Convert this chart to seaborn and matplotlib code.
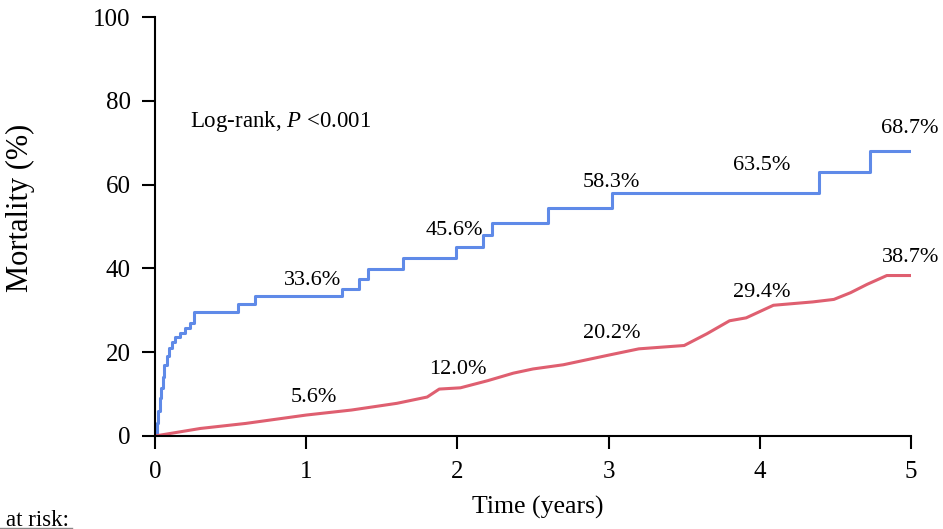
import numpy as np
import pandas as pd
import matplotlib
matplotlib.use("Agg")
import matplotlib.pyplot as plt
import seaborn as sns

# Blue group (step curve)
blue_t = [0.0, 0.01, 0.02, 0.03, 0.04, 0.05, 0.06, 0.077, 0.09, 0.11, 0.13, 0.165, 0.2, 0.23, 0.26,
          0.55, 0.66, 1.24, 1.35, 1.41, 1.64, 1.99, 2.17, 2.23, 2.6, 3.02, 4.39, 4.73, 5.0]
blue_m = [0.0, 3.0, 6.0, 9.0, 11.5, 14.0, 17.0, 19.0, 21.0, 22.5, 23.6, 24.6, 25.8, 27.0, 29.6,
          31.5, 33.5, 35.2, 37.4, 39.8, 42.4, 45.0, 48.0, 50.8, 54.4, 58.1, 62.9, 68.1, 68.1]

# Red group (many small steps, drawn as a line)
red_t = [0.0, 0.3, 0.6, 1.0, 1.3, 1.6, 1.8, 1.88, 2.02, 2.2, 2.37, 2.5, 2.7, 3.0, 3.2, 3.5, 3.65, 3.8, 3.91, 4.09, 4.35, 4.49, 4.6, 4.71, 4.84, 5.0]
red_m = [0.0, 1.8, 3.0, 5.0, 6.2, 7.8, 9.3, 11.2, 11.5, 13.2, 15.0, 16.0, 17.0, 19.3, 20.8, 21.6, 24.4, 27.5, 28.2, 31.2, 32.0, 32.6, 34.2, 36.2, 38.3, 38.3]

blue_labels = ["33.6%", "45.6%", "58.3%", "63.5%", "68.7%"]
blue_lab_x = [1.045, 1.98, 3.02, 4.01, 4.99]
blue_lab_y = [36.0, 48.0, 59.5, 63.5, 72.3]
red_labels = ["5.6%", "12.0%", "20.2%", "29.4%", "38.7%"]
red_lab_x = [1.05, 2.0, 3.02, 4.01, 5.0]
red_lab_y = [8.2, 14.8, 23.4, 33.2, 41.6]

blue_col = "#5f8ae8"
red_col = "#df5f70"

plt.rcParams['font.family'] = ['Liberation Serif', 'DejaVu Serif']
plt.rcParams['mathtext.fontset'] = 'custom'
plt.rcParams['mathtext.it'] = 'Liberation Serif:italic'
plt.rcParams['mathtext.rm'] = 'Liberation Serif'
fig = plt.figure(figsize=(9.43, 5.29), dpi=100)
ax = fig.add_axes([155/943, 1 - 436/529, (911 - 155)/943, (436 - 17)/529])

df_b = pd.DataFrame({"t": blue_t, "m": blue_m})
df_r = pd.DataFrame({"t": red_t, "m": red_m})
sns.lineplot(data=df_b, x="t", y="m", ax=ax, color=blue_col, lw=2.2, drawstyle="steps-post", estimator=None)
sns.lineplot(data=df_r, x="t", y="m", ax=ax, color=red_col, lw=2.2, estimator=None)

for s, x, y in zip(blue_labels, blue_lab_x, blue_lab_y):
    ax.text(x, y, s, ha="center", va="baseline", fontsize=16)
for s, x, y in zip(red_labels, red_lab_x, red_lab_y):
    ax.text(x, y, s, ha="center", va="baseline", fontsize=16)

ax.text(0.23, 73.7, "Log-rank, $\\mathit{P}$ <0.001", fontsize=16.5, va="baseline", ha="left")

ax.set_xlim(0, 5)
ax.set_ylim(0, 100)
ax.set_xticks([0, 1, 2, 3, 4, 5])
ax.set_yticks([0, 20, 40, 60, 80, 100])
ax.tick_params(axis="both", direction="out", length=9.5, width=1.5, labelsize=18)
ax.tick_params(axis="x", pad=8.5)
ax.tick_params(axis="y", pad=8)
for side in ["top", "right"]:
    ax.spines[side].set_visible(False)
for side in ["left", "bottom"]:
    ax.spines[side].set_linewidth(1.5)
ax.set_xlabel("Time (years)", fontsize=18.5)
ax.set_ylabel("Mortality (%)", fontsize=22)
ax.xaxis.set_label_coords((538 - 155) / 756, (436 - 496) / 419)
ax.yaxis.set_label_coords((35 - 155) / 756, (436 - 208) / 419)

fig.text(6/943, 3.5/529, "at risk:", fontsize=16.5, va="baseline", ha="left")
fig.add_artist(plt.Line2D([0, 72/943], [1.2/529, 1.2/529], color="#888888", lw=1))

fig.savefig("out.png", dpi=100)
